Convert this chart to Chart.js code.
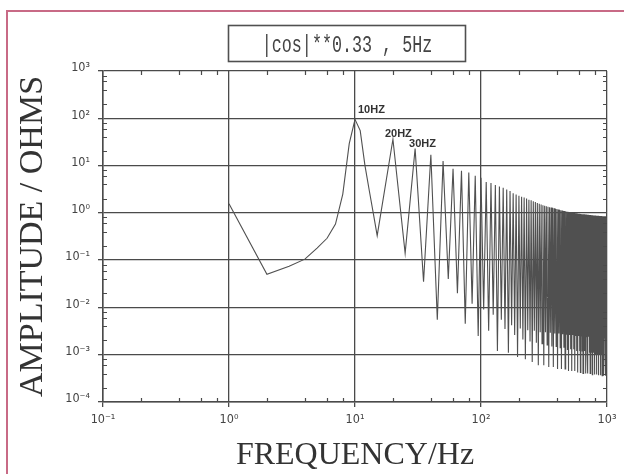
<!DOCTYPE html>
<html><head><meta charset="utf-8">
<script src="https://cdn.jsdelivr.net/npm/chart.js@4.4.1/dist/chart.umd.min.js"></script>
<style>html,body{margin:0;padding:0;background:#fff;}canvas{display:block;}</style>
</head><body>
<canvas id="c" width="624" height="474"></canvas>
<script>
const titleText = '|cos|**0.33 , 5Hz';
const xTitle = 'FREQUENCY/Hz';
const yTitle = 'AMPLITUDE / OHMS';
const xTickValues = [0.1, 1, 10, 100, 1000];
const xTickLabels = ['10⁻¹', '10⁰', '10¹', '10²', '10³'];
const yTickValues = [0.0001, 0.001, 0.01, 0.1, 1, 10, 100, 1000];
const yTickLabels = ['10⁻⁴', '10⁻³', '10⁻²', '10⁻¹', '10⁰', '10¹', '10²', '10³'];

// low-frequency part of the curve (Hz, ohms)
const lowFreq = [1, 2, 3, 4, 5, 6, 7, 8, 9, 10, 11, 12, 13, 14];
const lowAmp  = [1.55, 0.05, 0.074, 0.105, 0.18, 0.29, 0.58, 2.5, 29, 95, 55, 10, 2.9, 0.95];

// troughs between harmonics
const troughFreq = [15,25,35,45,55,65,75,85,95,105,115,125,135,145,155,165,175,185,195,205,
 215,225,235,245,255,265,275,285,295,305,315,325,335,345,355,365,375,385,395,405,
 415,425,435,445,455,465,475,485,495,505,515,525,535,545,555,565,575,585,595,605,
 615,625,635,645,655,665,675,685,695,705,715,725,735,745,755,765,775,785,795,805,
 815,825,835,845,855,865,875,885,895,905,915,925,935,945,955,965,975,985,995];
const troughAmp = [0.33,0.14,0.035,0.0055,0.04,0.02,0.0045,0.012,0.0025,0.009,
 0.0032,0.007,0.0012,0.0055,0.0035,0.0011,0.0042,0.0026,0.0009,
 0.0036,0.0021,0.0008,0.0033,0.0019,0.0007,0.0032,0.0018,0.0006,0.003,
 0.0017,0.0006,0.003,0.0016,0.00055,0.0029,0.0015,0.00055,0.0028,0.0015,
 0.0005,0.0028,0.0014,0.0005,0.0027,0.0014,0.0005,0.0027,0.0013,0.00045,
 0.0026,0.0013,0.00045,0.0026,0.0013,0.00045,0.0025,0.0012,0.00042,0.0025,
 0.0012,0.00042,0.0025,0.0012,0.0004,0.0024,0.0012,0.0004,0.0024,0.0011,
 0.0004,0.0024,0.0011,0.0004,0.0023,0.0011,0.00038,0.0023,0.0011,0.00038,
 0.0023,0.001,0.00038,0.0023,0.001,0.00037,0.0022,0.001,0.00037,0.0022,
 0.001,0.00036,0.0022,0.001,0.00036,0.0022,0.001,0.00036,0.0022,0.001];

// harmonic peaks
const peakFreq = [20,30,40,50,60,70,80,90,100,110,120,130,140,150,160,170,180,190,200,
 210,220,230,240,250,260,270,280,290,300,310,320,330,340,350,360,370,380,390,400,
 410,420,430,440,450,460,470,480,490,500,510,520,530,540,550,560,570,580,590,600,
 610,620,630,640,650,660,670,680,690,700,710,720,730,740,750,760,770,780,790,800,
 810,820,830,840,850,860,870,880,890,900,910,920,930,940,950,960,970,980,990,1000];
const peakAmp = [36,23,17,12.5,8.6,7.8,7.1,6.1,5.5,4.5,4.3,3.9,3.6,3.4,3.1,2.9,2.6,2.45,2.3,
 2.2,2.1,2.0,1.9,1.85,1.75,1.7,1.62,1.55,1.5,1.45,1.42,1.38,1.35,1.32,1.3,1.28,1.25,1.22,1.2,
 1.18,1.16,1.14,1.12,1.1,1.09,1.08,1.06,1.05,1.04,1.03,1.02,1.01,1.0,0.99,0.98,0.98,0.97,0.96,0.96,
 0.95,0.95,0.94,0.94,0.93,0.93,0.92,0.92,0.92,0.91,0.91,0.9,0.9,0.9,0.89,0.89,0.89,0.88,0.88,0.88,
 0.88,0.87,0.87,0.87,0.87,0.86,0.86,0.86,0.86,0.86,0.86,0.85,0.85,0.85,0.85,0.85,0.85,0.84,0.84,0.84];

const peakLabels = ['10HZ', '20HZ', '30HZ'];
const peakLabelFreq = [10, 20, 30];
const peakLabelAmp = [95, 36, 23];

const points = lowFreq.map((f, i) => ({x: f, y: lowAmp[i]}));
for (let i = 0; i < troughFreq.length; i++) {
  points.push({x: troughFreq[i], y: troughAmp[i]});
  points.push({x: peakFreq[i], y: peakAmp[i]});
}

function labelFor(values, labels, v) {
  for (let i = 0; i < values.length; i++) if (Math.abs(Math.log10(values[i]) - Math.log10(v)) < 1e-6) return labels[i];
  return '';
}

const INK = '#4a4a4a';

const decorPlugin = {
  id: 'decor',
  beforeDraw(chart) {
    const ctx = chart.ctx;
    ctx.save();
    ctx.fillStyle = '#ffffff';
    ctx.fillRect(0, 0, chart.width, chart.height);
    ctx.strokeStyle = '#c86a86';
    ctx.lineWidth = 2;
    ctx.strokeRect(7, 11, chart.width + 20, chart.height + 20);
    ctx.restore();
  },
  afterDraw(chart) {
    const ctx = chart.ctx;
    const xs = chart.scales.x, ys = chart.scales.y;
    const a = chart.chartArea;
    ctx.save();
    // minor ticks (inward)
    ctx.strokeStyle = INK;
    ctx.lineWidth = 1.2;
    const mult = [2, 4, 6, 8];
    ctx.beginPath();
    for (const d of xTickValues.slice(0, -1)) {
      for (const m of mult) {
        const px = Math.round(xs.getPixelForValue(d * m)) + 0.5;
        ctx.moveTo(px, a.bottom); ctx.lineTo(px, a.bottom - 4);
        ctx.moveTo(px, a.top); ctx.lineTo(px, a.top + 4);
      }
    }
    for (const d of yTickValues.slice(0, -1)) {
      for (const m of mult) {
        const py = Math.round(ys.getPixelForValue(d * m)) + 0.5;
        ctx.moveTo(a.left, py); ctx.lineTo(a.left + 4, py);
        ctx.moveTo(a.right, py); ctx.lineTo(a.right - 4, py);
      }
    }
    ctx.stroke();
    // title box
    ctx.strokeStyle = '#505050';
    ctx.lineWidth = 1.6;
    ctx.strokeRect(228.5, 25.5, 237, 36);
    ctx.fillStyle = '#444';
    ctx.font = '22px "Liberation Mono", "DejaVu Sans Mono", monospace';
    ctx.textAlign = 'center';
    ctx.textBaseline = 'alphabetic';
    ctx.save();
    ctx.translate(347, 52);
    ctx.scale(0.76, 1.05);
    ctx.fillText(titleText, 0, 0);
    ctx.restore();
    // peak labels
    const dx = [3, -8, -6], dy = [-6, -2, -1];
    ctx.font = 'bold 11px "Liberation Sans", Arial, sans-serif';
    ctx.textAlign = 'left';
    ctx.fillStyle = '#333';
    for (let i = 0; i < peakLabels.length; i++) {
      const px = xs.getPixelForValue(peakLabelFreq[i]) + dx[i];
      const py = ys.getPixelForValue(peakLabelAmp[i]) + dy[i];
      ctx.fillText(peakLabels[i], px, py);
    }
    ctx.restore();
  }
};

const tickFont = {family: '"DejaVu Sans Condensed", "DejaVu Sans", sans-serif', size: 12.5};

new Chart(document.getElementById('c'), {
  type: 'line',
  data: {
    datasets: [{
      data: points,
      borderColor: '#505050',
      borderWidth: 1.1,
      pointRadius: 0,
      tension: 0,
      fill: false
    }]
  },
  options: {
    responsive: false,
    devicePixelRatio: 1,
    animation: false,
    parsing: false,
    layout: {padding: {top: 71, right: 17, left: 0, bottom: 0}},
    plugins: {legend: {display: false}, tooltip: {enabled: false}, title: {display: false}},
    scales: {
      x: {
        type: 'logarithmic', min: 0.1, max: 1000, position: 'bottom',
        afterBuildTicks: s => { s.ticks = xTickValues.map(v => ({value: v})); },
        afterFit: s => { s.height = 72; },
        ticks: {autoSkip: false, maxRotation: 0, padding: 5, color: '#444', font: tickFont,
          callback: v => labelFor(xTickValues, xTickLabels, v)},
        grid: {color: INK, lineWidth: 1.3, drawTicks: true, tickLength: 5, tickColor: INK},
        border: {display: true, color: INK, width: 1.5},
        title: {display: true, text: xTitle, color: '#333',
          font: {family: '"Liberation Serif", "DejaVu Serif", serif', size: 32, lineHeight: 1},
          padding: {top: 0, bottom: 2}}
      },
      y: {
        type: 'logarithmic', min: 0.0001, max: 1000, position: 'left',
        afterBuildTicks: s => { s.ticks = yTickValues.map(v => ({value: v})); },
        afterFit: s => { s.width = 103; },
        ticks: {autoSkip: false, padding: 8, labelOffset: -3, color: '#444', font: tickFont,
          callback: v => labelFor(yTickValues, yTickLabels, v)},
        grid: {color: INK, lineWidth: 1.3, drawTicks: true, tickLength: 5, tickColor: INK},
        border: {display: true, color: INK, width: 1.5},
        title: {display: true, text: yTitle, color: '#333',
          font: {family: '"Liberation Serif", "DejaVu Serif", serif', size: 34, lineHeight: 1},
          padding: {top: 16, bottom: 0}}
      }
    }
  },
  plugins: [decorPlugin]
});
</script>
</body></html>
